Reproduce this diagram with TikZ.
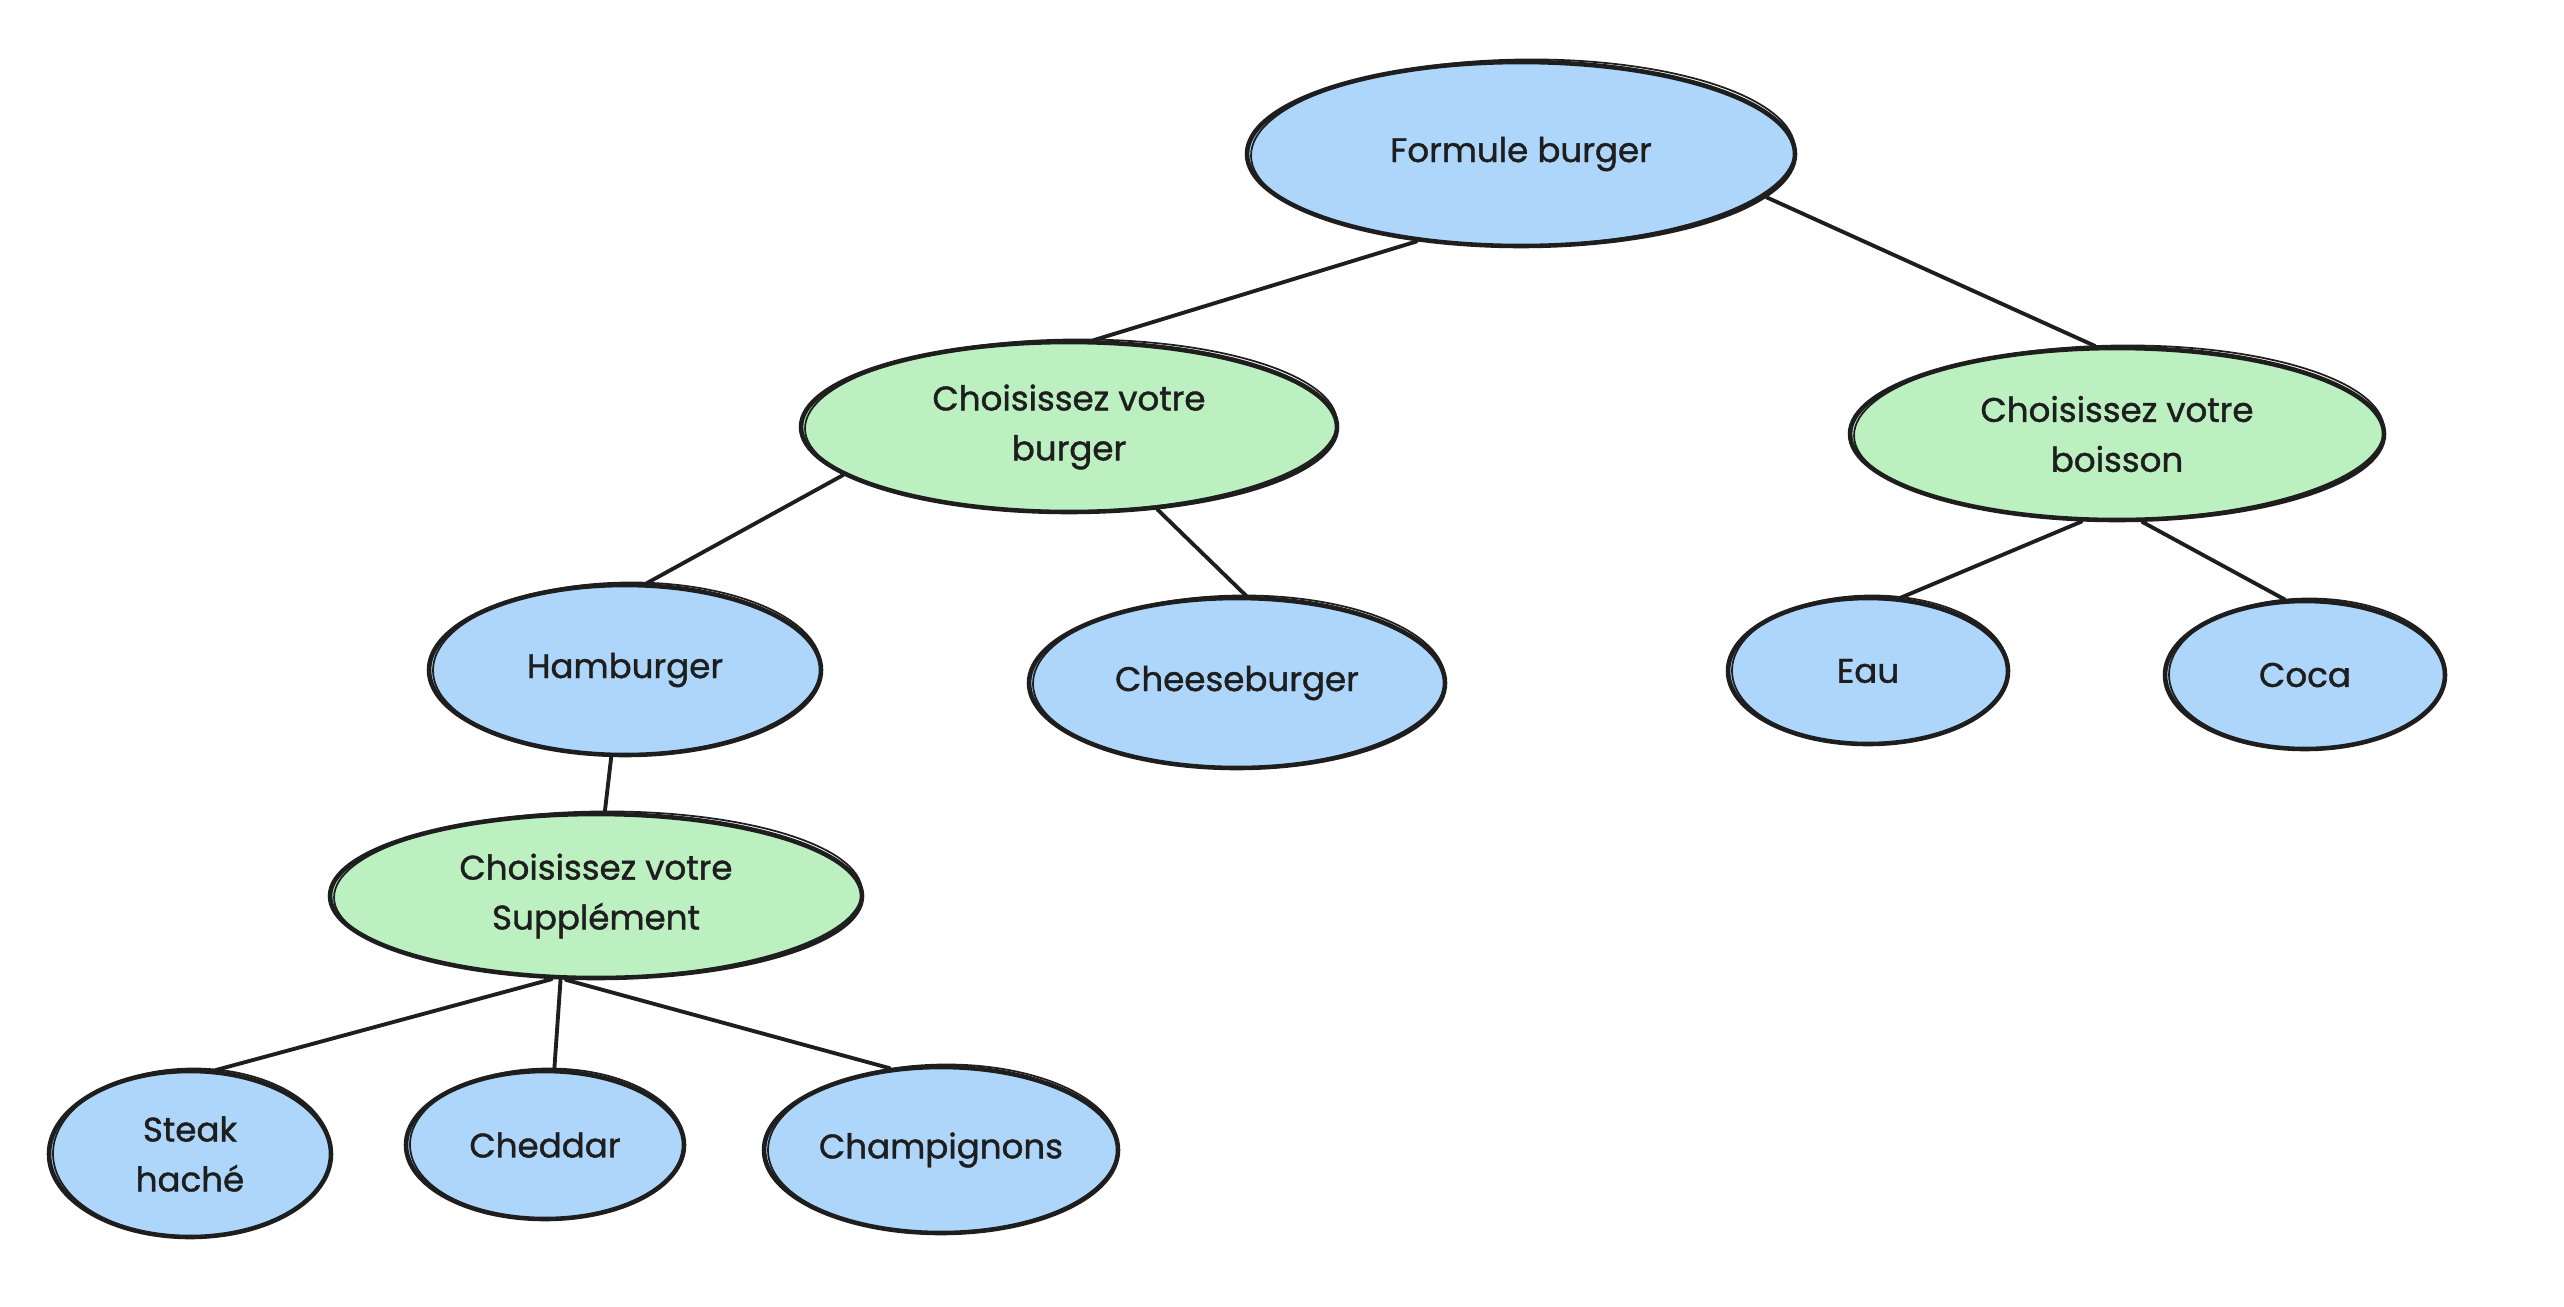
\documentclass[tikz,border=0pt]{standalone}
\usepackage{fontspec}
\setmainfont{Poppins}
\newfontfamily\handfont{Poppins}[BoldFont=Poppins, BoldFeatures={FakeBold=1.2}]
\usetikzlibrary{shapes.geometric}

\definecolor{ink}{HTML}{1E1E1E}
\definecolor{optblue}{HTML}{ADD6FA}
\definecolor{choicegreen}{HTML}{BDF0C1}

\tikzset{
  bubble/.style={ellipse, draw=ink, line width=1.3pt, inner sep=0pt,
    text=ink, align=center, font=\handfont\bfseries\fontsize{9.7}{14.2}\selectfont},
  option/.style={bubble, fill=optblue},
  choice/.style={bubble, fill=choicegreen},
  retrace/.style={draw=ink, line width=0.5pt},
  link/.style={draw=ink, line width=1.1pt, line cap=round},
}

% name, x, y, x radius, y radius (in 0.1 mm), style, label
\newcommand\sketchnode[7]{%
  \node[#6, minimum width={#4*0.2mm}, minimum height={#5*0.2mm}] (#1) at (#2,#3) {#7};
  \draw[retrace, shift={(#2+2,#3-1.5)}, rotate=0.7]
    (0,0) ellipse [x radius=#4-2, y radius=#5+1];
}

\begin{document}
\begin{tikzpicture}[x=0.1mm, y=-0.1mm]
  \useasboundingbox (0,0) rectangle (2564,1306);

  % bubbles
  \sketchnode{formule}{1521}{154}{274}{92}{option}{Formule burger}
  \sketchnode{cburger}{1069}{427}{268}{85}{choice}{Choisissez votre\\burger}
  \sketchnode{cboisson}{2117}{434}{267}{86}{choice}{Choisissez votre\\boisson}
  \sketchnode{hamburger}{625}{670}{196}{85}{option}{Hamburger}
  \sketchnode{cheese}{1237}{683}{208}{85}{option}{Cheeseburger}
  \sketchnode{eau}{1868}{671}{140}{73}{option}{Eau}
  \sketchnode{coca}{2305}{675}{140}{74}{option}{Coca}
  \sketchnode{csupp}{596}{896}{266}{82}{choice}{Choisissez votre\\Supplément}
  \sketchnode{steak}{190}{1154}{141}{83}{option}{Steak\\haché}
  \sketchnode{cheddar}{545}{1145}{139}{74}{option}{Cheddar}
  \sketchnode{champ}{941}{1150}{177}{83}{option}{Champignons}

  % connectors
  \draw[link] (formule.-140) -- (cburger.74);
  \draw[link] (formule.-10) -- (cboisson.104);
  \draw[link] (cburger.-168) -- (hamburger.76);
  \draw[link] (cburger.-43) -- (cheese.84);
  \draw[link] (cboisson.-112) -- (eau.66);
  \draw[link] (cboisson.-74) -- (coca.105);
  \draw[link] (hamburger.-99) -- (csupp.84);
  \draw[link] (csupp.-118) -- (steak.73);
  \draw[link] (csupp.-113) -- (cheddar.83);
  \draw[link] (csupp.-110) -- (champ.122);
\end{tikzpicture}
\end{document}
